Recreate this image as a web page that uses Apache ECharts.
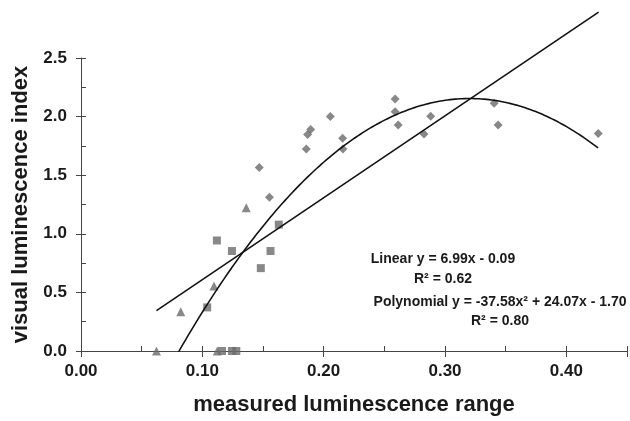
<!DOCTYPE html>
<html>
<head>
<meta charset="utf-8">
<script src="https://cdn.jsdelivr.net/npm/echarts@6/dist/echarts.min.js"></script>
<style>html,body{margin:0;padding:0;background:#fff}#c{width:630px;height:421px}</style>
</head>
<body>
<div id="c"></div>
<script>
// Data
const diamonds = [[0.1469,1.565],[0.1553,1.312],[0.1857,1.723],[0.1868,1.847],[0.1893,1.889],[0.2055,2.0],[0.2156,1.816],[0.2159,1.723],[0.2589,2.151],[0.2589,2.041],[0.2614,1.929],[0.2827,1.852],[0.2882,2.002],[0.3405,2.114],[0.3438,1.929],[0.4263,1.855]];
const squares = [[0.104,0.372],[0.112,0.943],[0.1244,0.853],[0.1482,0.707],[0.1562,0.853],[0.163,1.078],[0.1162,0],[0.1244,0],[0.128,0]];
const triangles = [[0.0622,0],[0.0822,0.335],[0.1096,0.555],[0.1362,1.222],[0.1123,0]];
// Trend-line coefficients as printed on the chart
const linearCoef = [6.99, -0.09];          // y = a x + b
const polyCoef = [-37.58, 24.07, -1.70];   // y = a x^2 + b x + c
const trendRange = [0.0622, 0.4266];
const xTicks = [0, 0.1, 0.2, 0.3, 0.4];
const yTicks = [0, 0.5, 1.0, 1.5, 2.0, 2.5];
const labels = ['Linear y = 6.99x - 0.09', 'R² = 0.62', 'Polynomial y = -37.58x² + 24.07x - 1.70', 'R² = 0.80'];

const linearLine = trendRange.map(x => [x, linearCoef[0]*x + linearCoef[1]]);
const polyLine = [];
for (let x = trendRange[0]; x <= trendRange[1] + 1e-9; x += 0.002) {
  polyLine.push([x, polyCoef[0]*x*x + polyCoef[1]*x + polyCoef[2]]);
}
polyLine.push([trendRange[1], polyCoef[0]*trendRange[1]**2 + polyCoef[1]*trendRange[1] + polyCoef[2]]);

const FONT = 'Liberation Sans';
const axisCol = '#444';
const mk = '#6a6a6a';
const lineCol = '#111';

function isMajor(v, step) { return Math.abs(v/step - Math.round(v/step)) < 1e-6; }

const chart = echarts.init(document.getElementById('c'), null, {renderer: 'canvas'});
const txt = (t, x, y) => ({type: 'text', x: x, y: y, z: 10,
  style: {text: t, align: 'center', verticalAlign: 'middle', font: 'bold 14px "Liberation Sans"', fill: '#1a1a1a'}});
chart.setOption({
  animation: false,
  backgroundColor: '#fff',
  grid: {left: 81, right: 2, top: 58, bottom: 67, containLabel: false},
  xAxis: [{
    type: 'value', min: 0, max: 0.45, interval: 0.1,
    name: 'measured luminescence range', nameLocation: 'middle', nameGap: 43,
    nameTextStyle: {fontFamily: FONT, fontWeight: 'bold', fontSize: 22, color: '#1a1a1a'},
    axisLine: {show: true, onZero: false, lineStyle: {color: axisCol, width: 1}},
    axisTick: {show: true, inside: false, length: 6, lineStyle: {color: axisCol}},
    axisLabel: {margin: 12, fontFamily: FONT, fontWeight: 'bold', fontSize: 17, color: '#1a1a1a',
      formatter: v => (isMajor(v, 0.1) && v <= 0.4 + 1e-9) ? v.toFixed(2) : ''},
    splitLine: {show: false}
  }, {
    type: 'value', min: 0, max: 0.45, interval: 0.05, position: 'bottom',
    axisLine: {show: false, onZero: false},
    axisTick: {show: true, inside: true, length: 5, lineStyle: {color: axisCol}},
    axisLabel: {show: false}, splitLine: {show: false}
  }],
  yAxis: [{
    type: 'value', min: 0, max: 2.5, interval: 0.5,
    name: 'visual luminescence index', nameLocation: 'middle', nameGap: 49, nameRotate: 90,
    nameTextStyle: {fontFamily: FONT, fontWeight: 'bold', fontSize: 22, color: '#1a1a1a'},
    axisLine: {show: true, onZero: false, lineStyle: {color: axisCol, width: 1}},
    axisTick: {show: true, inside: false, length: 5, lineStyle: {color: axisCol}},
    axisLabel: {margin: 14, fontFamily: FONT, fontWeight: 'bold', fontSize: 17, color: '#1a1a1a',
      formatter: v => v.toFixed(1)},
    splitLine: {show: false}
  }, {
    type: 'value', min: 0, max: 2.5, interval: 0.25, position: 'left',
    axisLine: {show: false, onZero: false},
    axisTick: {show: true, inside: true, length: 5, lineStyle: {color: axisCol}},
    axisLabel: {show: false}, splitLine: {show: false}
  }],
  series: [
    {type: 'scatter', data: diamonds, symbol: 'diamond', symbolSize: [9, 9], itemStyle: {color: mk}, z: 3},
    {type: 'scatter', data: squares, symbol: 'rect', symbolSize: 8, itemStyle: {color: mk}, z: 3},
    {type: 'scatter', data: triangles, symbol: 'triangle', symbolSize: 9, itemStyle: {color: mk}, z: 3},
    {type: 'line', data: linearLine, showSymbol: false, symbol: 'none', clip: false,
      lineStyle: {color: lineCol, width: 1.6}, z: 4},
    {type: 'line', data: polyLine, showSymbol: false, symbol: 'none', clip: true, smooth: false,
      lineStyle: {color: lineCol, width: 1.6}, z: 4}
  ],
  graphic: [
    txt(labels[0], 443, 259),
    txt(labels[1], 443, 279),
    txt(labels[2], 500, 302),
    txt(labels[3], 500, 321)
  ]
});
</script>
</body>
</html>
